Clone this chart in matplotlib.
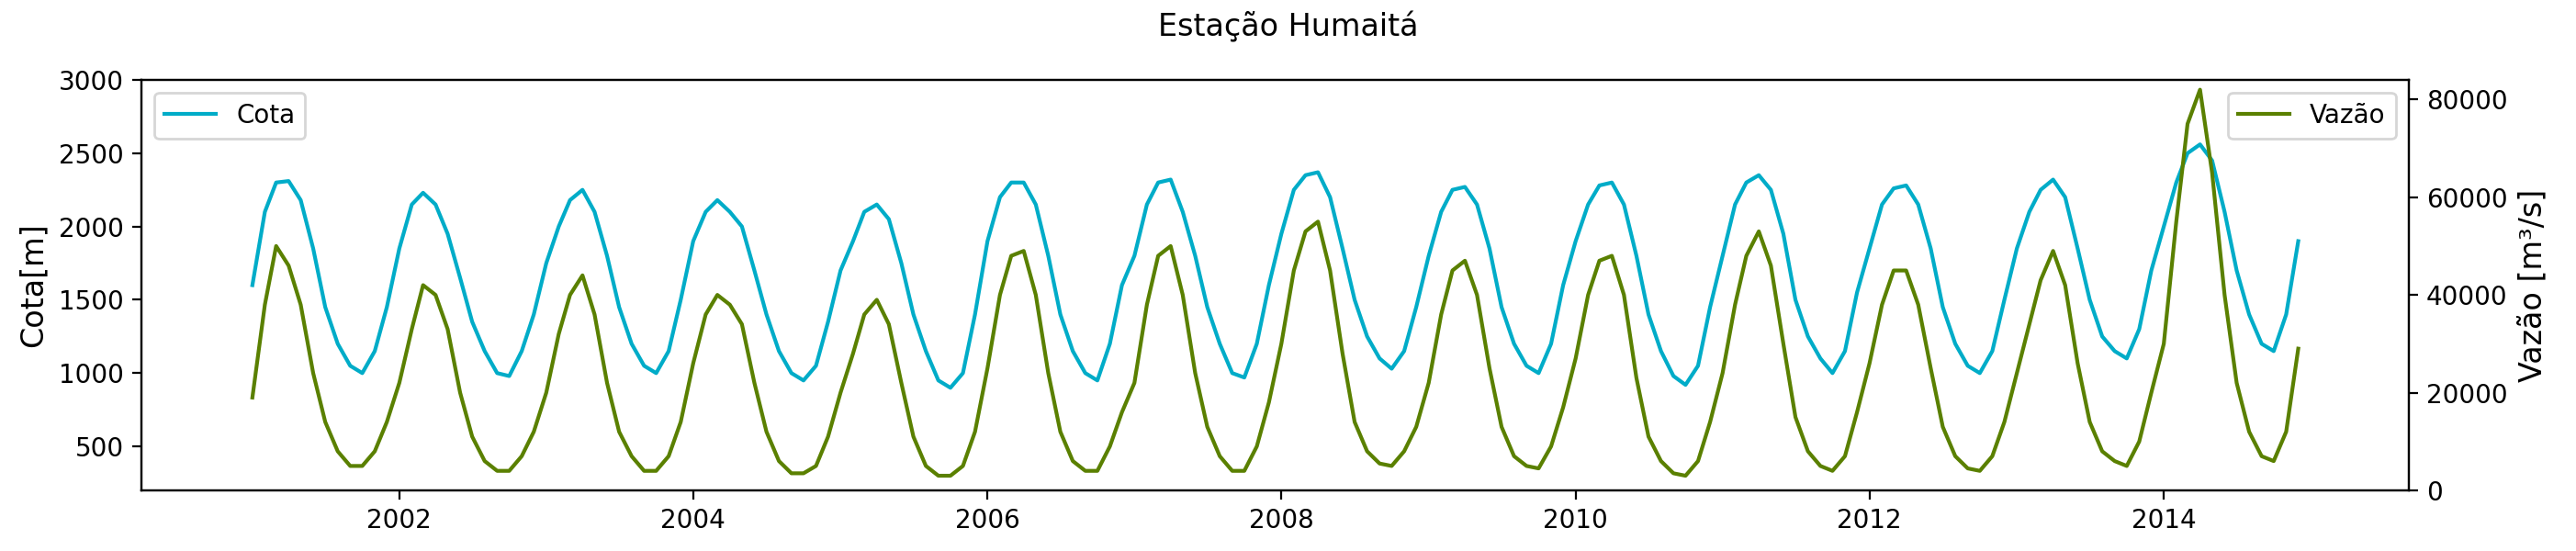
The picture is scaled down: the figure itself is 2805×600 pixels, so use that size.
import pandas as pd
import matplotlib.pyplot as plt

# monthly values, Jan 2001 .. Dec 2014
cota = [
    1600, 2100, 2300, 2310, 2180, 1850, 1450, 1200, 1050, 1000, 1150, 1450,
    1850, 2150, 2230, 2150, 1950, 1650, 1350, 1150, 1000, 980, 1150, 1400,
    1750, 2000, 2180, 2250, 2100, 1800, 1450, 1200, 1050, 1000, 1150, 1500,
    1900, 2100, 2180, 2100, 2000, 1700, 1400, 1150, 1000, 950, 1050, 1350,
    1700, 1900, 2100, 2150, 2050, 1750, 1400, 1150, 950, 900, 1000, 1400,
    1900, 2200, 2300, 2300, 2150, 1800, 1400, 1150, 1000, 950, 1200, 1600,
    1800, 2150, 2300, 2320, 2100, 1800, 1450, 1200, 1000, 970, 1200, 1600,
    1950, 2250, 2350, 2370, 2200, 1850, 1500, 1250, 1100, 1030, 1150, 1450,
    1800, 2100, 2250, 2270, 2150, 1850, 1450, 1200, 1050, 1000, 1200, 1600,
    1900, 2150, 2280, 2300, 2150, 1800, 1400, 1150, 980, 920, 1050, 1450,
    1800, 2150, 2300, 2350, 2250, 1950, 1500, 1250, 1100, 1000, 1150, 1550,
    1850, 2150, 2260, 2280, 2150, 1850, 1450, 1200, 1050, 1000, 1150, 1500,
    1850, 2100, 2250, 2320, 2200, 1850, 1500, 1250, 1150, 1100, 1300, 1700,
    2000, 2300, 2500, 2560, 2450, 2100, 1700, 1400, 1200, 1150, 1400, 1900,
]
vazao = [
    19000, 38000, 50000, 46000, 38000, 24000, 14000, 8000, 5000, 5000, 8000, 14000,
    22000, 33000, 42000, 40000, 33000, 20000, 11000, 6000, 4000, 4000, 7000, 12000,
    20000, 32000, 40000, 44000, 36000, 22000, 12000, 7000, 4000, 4000, 7000, 14000,
    26000, 36000, 40000, 38000, 34000, 22000, 12000, 6000, 3500, 3500, 5000, 11000,
    20000, 28000, 36000, 39000, 34000, 22000, 11000, 5000, 3000, 3000, 5000, 12000,
    25000, 40000, 48000, 49000, 40000, 24000, 12000, 6000, 4000, 4000, 9000, 16000,
    22000, 38000, 48000, 50000, 40000, 24000, 13000, 7000, 4000, 4000, 9000, 18000,
    30000, 45000, 53000, 55000, 45000, 28000, 14000, 8000, 5500, 5000, 8000, 13000,
    22000, 36000, 45000, 47000, 40000, 25000, 13000, 7000, 5000, 4500, 9000, 17000,
    27000, 40000, 47000, 48000, 40000, 23000, 11000, 6000, 3500, 3000, 6000, 14000,
    24000, 38000, 48000, 53000, 46000, 30000, 15000, 8000, 5000, 4000, 7000, 16000,
    26000, 38000, 45000, 45000, 38000, 25000, 13000, 7000, 4500, 4000, 7000, 14000,
    24000, 34000, 43000, 49000, 42000, 26000, 14000, 8000, 6000, 5000, 10000, 20000,
    30000, 55000, 75000, 82000, 65000, 40000, 22000, 12000, 7000, 6000, 12000, 29000,
]
dates = pd.date_range("2001-01-01", periods=len(cota), freq="MS")

fig, ax1 = plt.subplots(figsize=(14.025, 3.0), dpi=200)
ax1.plot(dates, cota, color="#00acc8", label="Cota")
ax1.set_ylabel("Cota[m]", fontsize=12)
ax1.set_ylim(200, 3000)
ax1.set_xlim(pd.Timestamp("2000-04-01"), pd.Timestamp("2015-09-01"))
ax1.legend(loc="upper left")

ax2 = ax1.twinx()
ax2.plot(dates, vazao, color="#5a8000", label="Vazão")
ax2.set_ylabel("Vazão [m³/s]", fontsize=12)
ax2.set_ylim(0, 84000)
ax2.legend(loc="upper right")

fig.suptitle("Estação Humaitá", fontsize=12)
fig.subplots_adjust(left=0.055, right=0.935, top=0.855, bottom=0.11)
fig.savefig("out.png")
